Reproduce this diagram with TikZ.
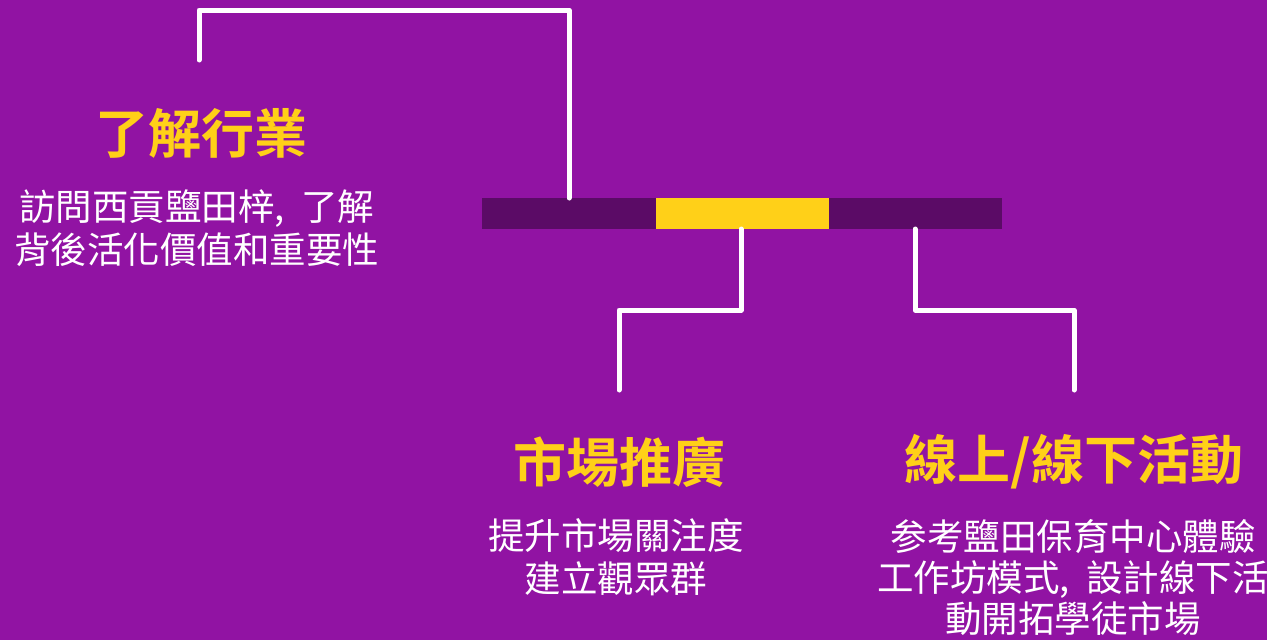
\documentclass[tikz,border=0pt]{standalone}
\usepackage{fontspec}
\setmainfont{Noto Sans CJK TC}
\newfontfamily\cjkb{Noto Sans CJK TC Bold}
\definecolor{bgpurple}{RGB}{145,19,163}
\definecolor{darkbar}{RGB}{91,11,102}
\definecolor{baryellow}{RGB}{255,208,24}
\newcommand{\cmsp}{,\hspace{0.45em}}
\begin{document}
\begin{tikzpicture}[x=1pt,y=-1pt,
  conn/.style={draw=white,line width=5pt,line cap=round,line join=round},
  titletext/.style={text=baryellow,font=\cjkb\fontsize{53}{58}\selectfont,inner sep=0pt,anchor=center},
  bodytext/.style={text=white,font=\fontsize{36.5}{40}\selectfont,align=center,inner sep=0pt,anchor=center}]
\fill[bgpurple] (0,0) rectangle (1267,640);
\useasboundingbox (0,0) rectangle (1267,640);
% bar
\fill[darkbar] (482,198) rectangle (656,229);
\fill[baryellow] (656,198) rectangle (829,229);
\fill[darkbar] (829,198) rectangle (1002,229);
\coordinate (barL) at (569,198);
\coordinate (barM) at (741,229);
\coordinate (barR) at (915,229);
\coordinate (endA) at (199,60);
\coordinate (endB) at (619,390);
\coordinate (endC) at (1074,390);
\draw[conn] (endA) -- (199,10) -- (569,10) -- (barL);
\draw[conn] (barM) -- (741,310) -- (619,310) -- (endB);
\draw[conn] (barR) -- (915,310) -- (1074,310) -- (endC);
% texts
\node[titletext] (t1) at (201,133) {了解行業};
\node[bodytext] (b1) at (197,228) {訪問西貢鹽田梓\cmsp 了解\\[3pt]背後活化價值和重要性};
\node[titletext] (t2) at (619,462) {市場推廣};
\node[bodytext] (b2) at (616,557) {提升市場關注度\\[3pt]建立觀眾群};
\node[titletext] (t3) at (1074,462) {線上/線下活動};
\node[bodytext] (b3) at (1073,577) {参考鹽田保育中心體驗\\[1pt]工作坊模式\cmsp 設計線下活\\[1pt]動開拓學徒市場};
\end{tikzpicture}
\end{document}
